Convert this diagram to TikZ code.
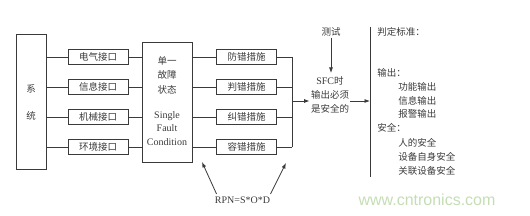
\documentclass[tikz,border=0pt]{standalone}
\usepackage{fontspec}
\setmainfont{Liberation Serif}
\setsansfont{Liberation Sans}
\newfontfamily\cjk{Noto Sans CJK SC}
\usetikzlibrary{arrows.meta}
\definecolor{ink}{HTML}{3A3A3A}
\definecolor{wmgreen}{HTML}{C4DDB4}
\begin{document}
\begin{tikzpicture}[x=1pt,y=-1pt,line width=0.8pt,draw=ink,text=ink,
  box/.style={draw,minimum width=60pt,minimum height=15pt,inner sep=0pt,font=\cjk\fontsize{9.5}{11}\selectfont},
  cn/.style={font=\cjk\fontsize{9.5}{11}\selectfont,inner sep=1pt},
  arr/.style={-{Latex[length=5.5pt,width=4pt]}}]
\useasboundingbox (0,0) rectangle (530,216);
% left part
\node[draw,minimum width=30pt,minimum height=135pt,inner sep=0pt] (sys) at (31,101.5) {};
\node[cn] (sysa) at (31,89) {系};
\node[cn] (sysb) at (31,116) {统};
\node[draw,minimum width=50pt,minimum height=120pt,inner sep=0pt] (sfc) at (167,102) {};
\node[cn,align=center,font=\cjk\fontsize{9.5}{14.5}\selectfont] (sfccn) at (167,75) {单一\\故障\\状态};
\node[align=center,font=\fontsize{10}{13.5}\selectfont] (sfcen) at (167,128.5) {Single\\Fault\\Condition};
\coordinate (brk) at (292,57);
\foreach \i/\y/\a/\b in {1/57/电气接口/防错措施,2/87/信息接口/判错措施,3/117/机械接口/纠错措施,4/147/环境接口/容错措施}{
  \node[box] (if\i) at (98,\y) {\a};
  \node[box] (ms\i) at (246.5,\y) {\b};
  \draw (sys.east |- if\i) -- (if\i.west);
  \draw (if\i.east) -- (if\i -| sfc.west);
  \draw (sfc.east |- ms\i) -- (ms\i.west);
  \draw (ms\i.east) -- (ms\i -| brk);}
\draw (ms1 -| brk) -- (ms4 -| brk);
% output
\node[cn,align=center,font=\cjk\fontsize{9.5}{14}\selectfont] (out) at (330,95) {{\rmfamily\fontsize{10}{14}\selectfont SFC}时\\输出必须\\是安全的};
\coordinate (bm) at (292,101);
\draw[arr] (bm) -- (bm -| out.west);
\node[cn] (test) at (331,32) {测试};
\draw[arr] (test.south) -- (331,73);
\coordinate (vt) at (370,27);
\coordinate (vb) at (370,177);
\draw (vt) -- (vb);
\draw[arr] (bm -| out.east) -- (bm -| vt);
% criteria
\foreach \x/\y/\t [count=\k] in {376/32/判定标准：,376/73/输出：,397/87/功能输出,397/100.5/信息输出,397/114/报警输出,376/128/安全：,397/143/人的安全,397/157/设备自身安全,397/171/关联设备安全}
  \node[cn,anchor=west] (crit\k) at (\x,\y) {\t};
% RPN
\node[font=\fontsize{10}{12}\selectfont] (rpn) at (242.5,200) {RPN=S*O*D};
\coordinate (rpnl) at (202,162);
\coordinate (rpnr) at (286,163);
\draw[arr] ([xshift=-26pt,yshift=-1pt]rpn.north) -- (rpnl);
\draw[arr] ([xshift=28pt,yshift=-1pt]rpn.north) -- (rpnr);
\node[font=\sffamily\fontsize{16}{18}\selectfont,text=wmgreen] (wm) at (427,200) {www.cntronics.com};
\end{tikzpicture}
\end{document}
